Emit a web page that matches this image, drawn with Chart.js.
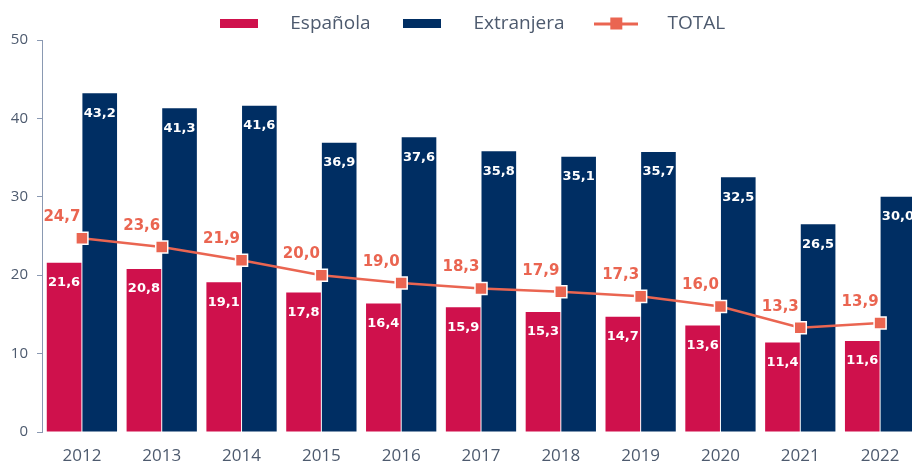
<!DOCTYPE html>
<html>
<head>
<meta charset="utf-8">
<script src="https://cdn.jsdelivr.net/npm/chart.js@4.4.1/dist/chart.umd.min.js"></script>
<style>
  html, body { margin:0; padding:0; overflow:hidden; background:#fff; }
  #wrap { width:930px; height:465px; }
</style>
</head>
<body>
<div id="wrap"><canvas id="chart" width="930" height="465"></canvas></div>
<script>
const years = ["2012","2013","2014","2015","2016","2017","2018","2019","2020","2021","2022"];
const espanola = [21.6, 20.8, 19.1, 17.8, 16.4, 15.9, 15.3, 14.7, 13.6, 11.4, 11.6];
const extranjera = [43.2, 41.3, 41.6, 36.9, 37.6, 35.8, 35.1, 35.7, 32.5, 26.5, 30.0];
const total = [24.7, 23.6, 21.9, 20.0, 19.0, 18.3, 17.9, 17.3, 16.0, 13.3, 13.9];
const yTicks = [0, 10, 20, 30, 40, 50];

const RED = "#cf114c", NAVY = "#002e63", CORAL = "#ea6551";
const AXIS = "#8a99b2", TEXT = "#4d5a6e";

const fmt = v => v.toFixed(1).replace(".", ",");

// legend icons (bar swatch / line with square marker)
function swatch(color) {
  const c = document.createElement("canvas");
  c.width = 38; c.height = 9;
  const g = c.getContext("2d");
  g.fillStyle = color; g.fillRect(0, 0, 38, 9);
  return c;
}
function lineIcon(color) {
  const c = document.createElement("canvas");
  c.width = 44; c.height = 14;
  const g = c.getContext("2d");
  g.fillStyle = color;
  g.fillRect(0, 6, 44, 3);
  g.fillRect(16, 1, 12, 12);
  return c;
}

const valueLabels = {
  id: "valueLabels",
  afterDatasetsDraw(chart) {
    const ctx = chart.ctx;
    chart.data.datasets.forEach((ds, i) => {
      const meta = chart.getDatasetMeta(i);
      meta.data.forEach((el, j) => {
        ctx.save();
        ctx.textAlign = "center";
        ctx.textBaseline = "middle";
        if (ds.type === "line") {
          ctx.font = 'bold 15px "DejaVu Sans"';
          ctx.fillStyle = CORAL;
          ctx.fillText(fmt(ds.data[j]), el.x - 20, el.y - 21);
        } else {
          ctx.font = 'bold 13px "DejaVu Sans"';
          ctx.fillStyle = "#ffffff";
          ctx.fillText(fmt(ds.data[j]), el.x, el.y + 20);
        }
        ctx.restore();
      });
    });
  }
};

// nudge the legend a little to the right, as in the original
const legendShift = {
  id: "legendShift",
  afterLayout(chart) {
    if (chart.legend) { chart.legend.left += 17; chart.legend.right += 17; }
  }
};

const icons = [swatch(RED), swatch(NAVY), lineIcon(CORAL)];

new Chart(document.getElementById("chart").getContext("2d"), {
  data: {
    labels: years,
    datasets: [
      { type:"bar", label:"Española", data:espanola, backgroundColor:RED, order:1,
        barPercentage:0.972, categoryPercentage:0.893 },
      { type:"bar", label:"Extranjera", data:extranjera, backgroundColor:NAVY, order:1,
        barPercentage:0.972, categoryPercentage:0.893 },
      { type:"line", label:"TOTAL", data:total, borderColor:CORAL, backgroundColor:CORAL, order:0,
        borderWidth:2.5, tension:0, pointStyle:"rect", pointRadius:8.5, pointBorderColor:"#ffffff",
        pointBorderWidth:1.5, pointBackgroundColor:CORAL }
    ]
  },
  options: {
    responsive:false,
    animation:false,
    events:[],
    layout:{ padding:{ top:4, left:0, right:2, bottom:0 } },
    plugins:{
      tooltip:{ enabled:false },
      legend:{
        position:"top",
        maxHeight:36,
        labels:{
          usePointStyle:true,
          pointStyleWidth:44,
          padding:10,
          color:TEXT,
          font:{ family:"Open Sans", size:19 },
          generateLabels(chart) {
            return chart.data.datasets.map((ds, i) => ({
              text: "    " + ds.label + "    ",
              pointStyle: icons[i],
              fillStyle: ds.backgroundColor,
              strokeStyle: ds.backgroundColor,
              lineWidth: 0,
              fontColor: TEXT,
              hidden: false,
              datasetIndex: i
            }));
          }
        }
      }
    },
    scales:{
      x:{
        afterFit(scale) { scale.height = 33; },
        grid:{ display:false, drawTicks:false },
        border:{ display:false },
        ticks:{ color:TEXT, padding:14, font:{ family:"Open Sans", size:17, lineHeight:1.2 } }
      },
      y:{
        min:0, max:50,
        afterFit(scale) { scale.width = 42; },
        afterBuildTicks(scale) { scale.ticks = yTicks.map(v => ({ value:v })); },
        grid:{ drawOnChartArea:false, drawTicks:true, tickLength:5, color:AXIS },
        border:{ display:true, color:AXIS, width:1 },
        ticks:{ color:TEXT, padding:9, font:{ family:"Open Sans", size:15 } }
      }
    }
  },
  plugins:[valueLabels, legendShift]
});
</script>
</body>
</html>
